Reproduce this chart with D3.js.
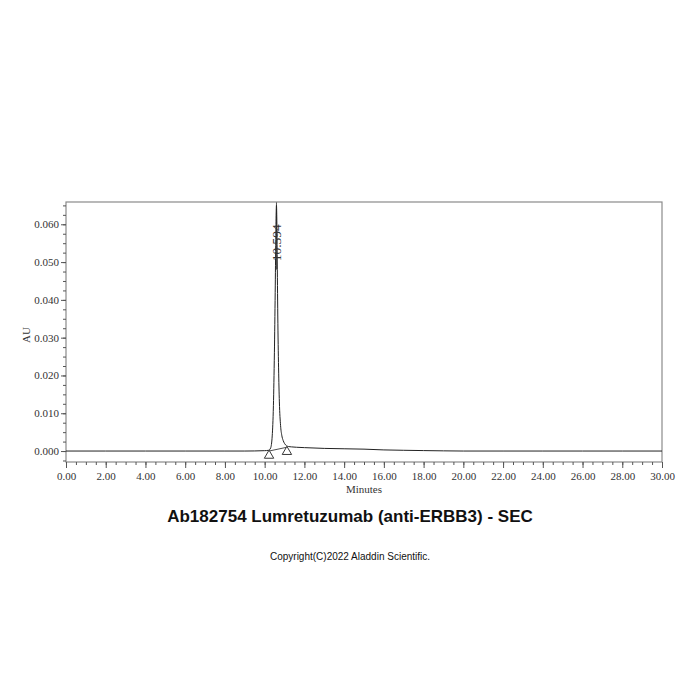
<!DOCTYPE html>
<html lang="en">
<head>
  <meta charset="UTF-8">
  <title>Ab182754 SEC</title>
  <style>
    body { margin: 0; background: #fff; }
    svg { display: block; }
  </style>
</head>
<body>
  <div id="chart"></div>

  <script src="https://d3js.org/d3.v7.min.js"></script>
  <script>

    // retention time (minutes) and absorbance (AU)
    const times = [0, 2, 4, 6, 8, 9, 10, 10.2, 10.3, 10.38, 10.44, 10.49, 10.53, 10.56, 10.58, 10.594,
      10.61, 10.63, 10.66, 10.7, 10.74, 10.8, 10.86, 10.93, 11.0, 11.1, 11.2, 11.35, 11.6, 12, 13, 14, 15, 16, 17, 18, 19, 20, 22, 24, 26, 28, 30];
    const signal = [0, 0, 0, 0, 0, 0, 0.0001, 0.0002, 0.0008, 0.004, 0.012, 0.026, 0.042, 0.056, 0.063, 0.065,
      0.062, 0.052, 0.036, 0.022, 0.013, 0.0068, 0.0042, 0.0028, 0.002, 0.0014, 0.0012, 0.0011, 0.001, 0.0009, 0.0007, 0.0006, 0.0005, 0.0003, 0.0002, 0.00012, 0.00005, 0, 0, 0, 0, 0, 0];

    // integration marks for the peak
    const peakLabel = "10.594";
    const peakTime = 10.594;
    const peakTop = 0.065;
    const baseStart = [10.22, 0.0];
    const baseEnd = [11.12, 0.001];

    const xTicks = d3.range(0, 30.01, 2);
    const yTicks = [0, 0.01, 0.02, 0.03, 0.04, 0.05, 0.06];

    const title = "Ab182754 Lumretuzumab (anti-ERBB3) - SEC";
    const copyright = "Copyright(C)2022 Aladdin Scientific.";

    // layout
    const margin = { left: 66, top: 202, right: 38, bottom: 238 }
    const width = 700 - margin.left - margin.right
    const height = 700 - margin.top - margin.bottom

    const svg = d3.select("#chart").append("svg")
      .attr("width", 700)
      .attr("height", 700);

    const g = svg.append("g")
      .attr("transform", `translate(${margin.left}, ${margin.top})`);

    const x = d3.scaleLinear().domain([0, 30]).range([0, width]);
    const y = d3.scaleLinear().domain([-0.0029, 0.0659]).range([height, 0]);

    // frame
    g.append("rect")
      .attr("width", width)
      .attr("height", height)
      .attr("fill", "none")
      .attr("stroke", "#8a8a8a")
      .attr("stroke-width", 1.2);

    // minor ticks
    g.append("g")
      .attr("transform", `translate(0, ${height})`)
      .call(d3.axisBottom(x).tickValues(d3.range(0, 30.01, 0.5)).tickSize(3).tickFormat(""))
      .call(a => a.select(".domain").remove())
      .selectAll("line").attr("stroke", "#555");

    g.append("g")
      .call(d3.axisLeft(y).tickValues(d3.range(-0.0025, 0.066, 0.0025)).tickSize(3).tickFormat(""))
      .call(a => a.select(".domain").remove())
      .selectAll("line").attr("stroke", "#555");

    // major ticks and labels
    const xAxis = g.append("g")
      .attr("transform", `translate(0, ${height})`)
      .call(d3.axisBottom(x).tickValues(xTicks).tickSize(6).tickPadding(4).tickFormat(d3.format(".2f")));
    xAxis.select(".domain").remove();

    const yAxis = g.append("g")
      .call(d3.axisLeft(y).tickValues(yTicks).tickSize(5).tickPadding(2).tickFormat(d3.format(".3f")));
    yAxis.select(".domain").remove();

    [xAxis, yAxis].forEach(a => {
      a.selectAll("line").attr("stroke", "#555");
      a.selectAll("text")
        .attr("font-family", "Liberation Serif, serif")
        .attr("font-size", "11px")
        .attr("fill", "#333");
    });

    // axis titles
    g.append("text")
      .attr("x", 298)
      .attr("y", height + 31)
      .attr("text-anchor", "middle")
      .attr("font-family", "Liberation Serif, serif")
      .attr("font-size", "11px")
      .attr("fill", "#333")
      .text("Minutes");

    g.append("text")
      .attr("transform", `translate(-36, ${133}) rotate(-90)`)
      .attr("text-anchor", "middle")
      .attr("font-family", "Liberation Serif, serif")
      .attr("font-size", "11px")
      .attr("fill", "#333")
      .text("AU");

    // chromatogram
    const line = d3.line()
      .x((d, i) => x(times[i]))
      .y(d => y(d))
      .curve(d3.curveMonotoneX);

    g.append("path")
      .datum(signal)
      .attr("d", line)
      .attr("fill", "none")
      .attr("stroke", "#222")
      .attr("stroke-width", 1);

    // peak marker line and label
    g.append("line")
      .attr("x1", x(peakTime)).attr("x2", x(peakTime))
      .attr("y1", y(peakTop) - 3).attr("y2", y(0.048))
      .attr("stroke", "#222")
      .attr("stroke-width", 0.8);

    g.append("text")
      .attr("transform", `translate(${x(peakTime) + 4.5}, ${y(0.0502)}) rotate(-90)`)
      .attr("font-family", "Liberation Serif, serif")
      .attr("font-size", "13.5px")
      .attr("fill", "#333")
      .text(peakLabel);

    // integration baseline and triangles
    g.append("line")
      .attr("x1", x(baseStart[0])).attr("y1", y(baseStart[1]))
      .attr("x2", x(baseEnd[0])).attr("y2", y(baseEnd[1]))
      .attr("stroke", "#222")
      .attr("stroke-width", 0.8);

    const tri = d3.symbol().type(d3.symbolTriangle).size(38);
    [baseStart, baseEnd].forEach(p => {
      g.append("path")
        .attr("d", tri)
        .attr("transform", `translate(${x(p[0])}, ${y(p[1]) + 4.5})`)
        .attr("fill", "#fff")
        .attr("stroke", "#222")
        .attr("stroke-width", 0.9);
    });

    // titles
    svg.append("text")
      .attr("x", 350)
      .attr("y", 522)
      .attr("text-anchor", "middle")
      .attr("font-family", "Liberation Sans, Arial, sans-serif")
      .attr("font-weight", "bold")
      .attr("font-size", "17px")
      .attr("fill", "#111")
      .text(title);

    svg.append("text")
      .attr("x", 350)
      .attr("y", 560)
      .attr("text-anchor", "middle")
      .attr("font-family", "Liberation Sans, Arial, sans-serif")
      .attr("font-size", "10px")
      .attr("fill", "#111")
      .text(copyright);

  </script>
</body>
</html>
